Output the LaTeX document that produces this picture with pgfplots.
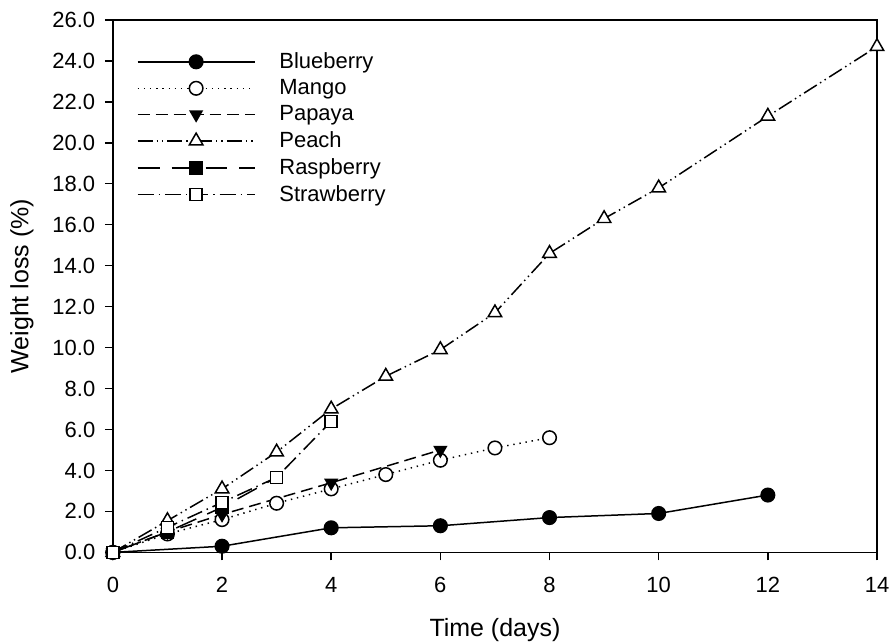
\documentclass[border=0pt]{standalone}
\usepackage{pgfplots}
\pgfplotsset{compat=1.18}
\usepackage{fontspec}
\setmainfont{Liberation Sans}
\begin{document}
\begin{tikzpicture}
\begin{axis}[
  name=ax,
  scale only axis,
  width=382.5pt, height=266.5pt,
  xmin=0, xmax=14, ymin=0, ymax=26,
  xtick={0,2,...,14}, ytick={0,2,...,26},
  tick align=outside, tick pos=left,
  major tick length=4pt,
  axis line style={line width=0.8pt},
  tick style={line width=0.7pt, black},
  /pgf/number format/assume math mode=true,
  ticklabel style={font=\fontsize{11}{12}\selectfont},
  xticklabel style={yshift=-4.8pt},
  yticklabel style={xshift=-1.3pt, /pgf/number format/.cd, fixed, fixed zerofill, precision=1},
  xlabel={Time (days)}, ylabel={Weight loss (\%)},
  label style={font=\fontsize{12.5}{14}\selectfont},
  xlabel style={at={([yshift=-39pt]axis description cs:0.5,0)}, anchor=center},
  ylabel style={at={([xshift=-45.5pt]axis description cs:0,0.5)}, anchor=center, rotate=0},
  clip=false,
  every axis plot/.append style={line width=0.75pt, black, mark size=3.4pt},
  legend style={at={(0.023,0.955)}, anchor=north west, draw=none, fill=none,
    font=\fontsize{11}{12}\selectfont, row sep=0pt,
    /tikz/every odd column/.append style={column sep=10pt}},
  legend cell align=left,
  legend image code/.code={\draw[mark repeat=2,mark phase=2,#1] plot coordinates {(0cm,0cm) (1.03cm,0cm) (2.06cm,0cm)};},
]
\addplot[solid, mark=*, mark options={solid, fill=black}] coordinates {
(0,0) (2,0.3) (4,1.2) (6,1.3) (8,1.7) (10,1.9) (12,2.8)};
\addlegendentry{Blueberry}
\addplot[dash pattern=on 0.7pt off 2.4pt, mark=*, mark options={solid, fill=white}] coordinates {
(0,0) (1,0.9) (2,1.6) (3,2.4) (4,3.1) (5,3.8) (6,4.5) (7,5.1) (8,5.6)};
\addlegendentry{Mango}
\addplot[dash pattern=on 6pt off 3pt, mark=triangle*, mark options={solid, fill=black, rotate=180}] coordinates {
(0,0) (1,1.0) (2,1.85) (4,3.4) (6,5.0)};
\addlegendentry{Papaya}
\addplot[dash pattern=on 7.5pt off 2pt on 0.7pt off 2pt on 0.7pt off 2pt, mark=triangle*, mark options={solid, fill=white}, mark size=3.9pt] coordinates {
(0,0) (1,1.55) (2,3.1) (3,4.9) (4,7.0) (5,8.6) (6,9.9) (7,11.7) (8,14.6) (9,16.3) (10,17.8) (12,21.3) (14,24.7)};
\addlegendentry{Peach}
\addplot[dash pattern=on 11pt off 6pt, mark=square*, mark options={solid, fill=black}, mark size=3pt] coordinates {
(0,0) (1,1.0) (2,2.2) (3,3.66)};
\addlegendentry{Raspberry}
\addplot[dash pattern=on 8pt off 2.5pt on 0.7pt off 2.5pt, mark=square*, mark options={solid, fill=white}, mark size=3pt] coordinates {
(0,0) (1,1.22) (2,2.44) (3,3.66) (4,6.4)};
\addlegendentry{Strawberry}
\end{axis}
\pgfresetboundingbox
\path[use as bounding box] ([xshift=-56.5pt,yshift=-45pt]ax.south west) rectangle ([xshift=6pt,yshift=10pt]ax.north east);
\end{tikzpicture}
\end{document}
